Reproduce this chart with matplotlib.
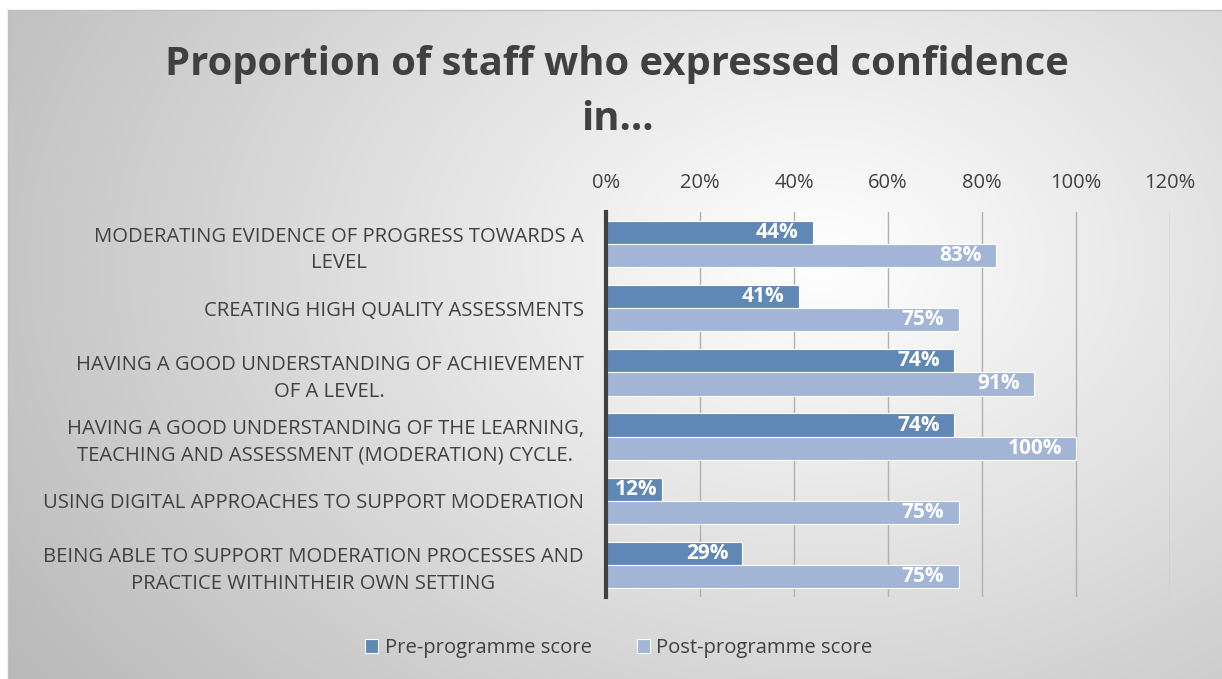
import numpy as np
import matplotlib.pyplot as plt

categories = [
    "MODERATING EVIDENCE OF PROGRESS TOWARDS A\nLEVEL",
    "CREATING HIGH QUALITY ASSESSMENTS",
    "HAVING A GOOD UNDERSTANDING OF ACHIEVEMENT\nOF A LEVEL.",
    "HAVING A GOOD UNDERSTANDING OF THE LEARNING,\nTEACHING AND ASSESSMENT (MODERATION) CYCLE.",
    "USING DIGITAL APPROACHES TO SUPPORT MODERATION",
    "BEING ABLE TO SUPPORT MODERATION PROCESSES AND\nPRACTICE WITHINTHEIR OWN SETTING",
]
pre = [44, 41, 74, 74, 12, 29]
post = [83, 75, 91, 100, 75, 75]
xticks = [0, 20, 40, 60, 80, 100, 120]

plt.rcParams['font.family'] = ['Open Sans', 'DejaVu Sans']

fig = plt.figure(figsize=(12.22, 6.79), dpi=100)

# background: radial grey gradient inside a box
bg = fig.add_axes([0, 0, 1, 1], zorder=-10)
W, H = 1222, 679
yy, xx = np.mgrid[0:H, 0:W]
d = np.sqrt(((xx - 820) / 900.0) ** 2 + ((yy - 260) / 650.0) ** 2)
shade = np.clip(1.0 - 0.25 * d, 0.72, 1.0)
img = np.dstack([shade] * 3)
img[:10, :] = 1.0
img[:, :8] = 1.0
bg.imshow(img, extent=[0, W, H, 0], aspect='auto')
bg.plot([8, W], [10, 10], color='#c0c0c0', lw=1)
bg.plot([8, 8], [10, H], color='#c0c0c0', lw=1)
bg.set_xlim(0, W)
bg.set_ylim(H, 0)
bg.axis('off')

ax = fig.add_axes([606 / W, 1 - 597 / H, (1170 - 606) / W, (597 - 212) / H])
ax.patch.set_alpha(0)

y = np.arange(len(categories))
h = 0.36
b1 = ax.barh(y - h / 2, pre, height=h, color='#6088b6', edgecolor='white', linewidth=0.8, zorder=3,
             label='Pre-programme score')
b2 = ax.barh(y + h / 2, post, height=h, color='#a2b5d6', edgecolor='white', linewidth=0.8, zorder=3,
             label='Post-programme score')
for bars, vals in [(b1, pre), (b2, post)]:
    for bar, v in zip(bars, vals):
        off = 3 if v > 20 else 1
        ax.text(v - off, bar.get_y() + bar.get_height() / 2, f"{v}%", ha='right', va='center',
                color='white', fontsize=15, fontweight='bold', zorder=4)

ax.set_xlim(0, 120)
ax.set_ylim(len(categories) - 0.5, -0.5)
ax.set_xticks(xticks)
ax.set_xticklabels([f"{t}%" for t in xticks])
ax.xaxis.tick_top()
ax.tick_params(axis='x', length=0, pad=14, labelsize=14.5, labelcolor='#404040')
ax.set_yticks(y)
ax.set_yticklabels(categories, fontsize=14.6, color='#404040', multialignment='center', linespacing=1.45)
ax.tick_params(axis='y', length=0, pad=16)
ax.grid(axis='x', color='#b0b0b0', lw=1, zorder=0)
for s in ['top', 'right', 'bottom']:
    ax.spines[s].set_visible(False)
ax.spines['left'].set_color('#404040')
ax.spines['left'].set_linewidth(3)
ax.spines['left'].set_zorder(5)

fig.text(617 / W, 1 - 92 / H, "Proportion of staff who expressed confidence\nin...", ha='center', va='center',
         fontsize=28.8, fontweight='bold', color='#404040', linespacing=1.5)

leg = fig.legend(handles=[b1, b2], loc='center', bbox_to_anchor=(619 / W, 1 - 648 / H), ncol=2,
                 frameon=False, fontsize=14.6, handlelength=0.65, handleheight=0.65, columnspacing=2.25,
                 handletextpad=0.3)
for t in leg.get_texts():
    t.set_color('#404040')

fig.savefig('out.png', dpi=100)
